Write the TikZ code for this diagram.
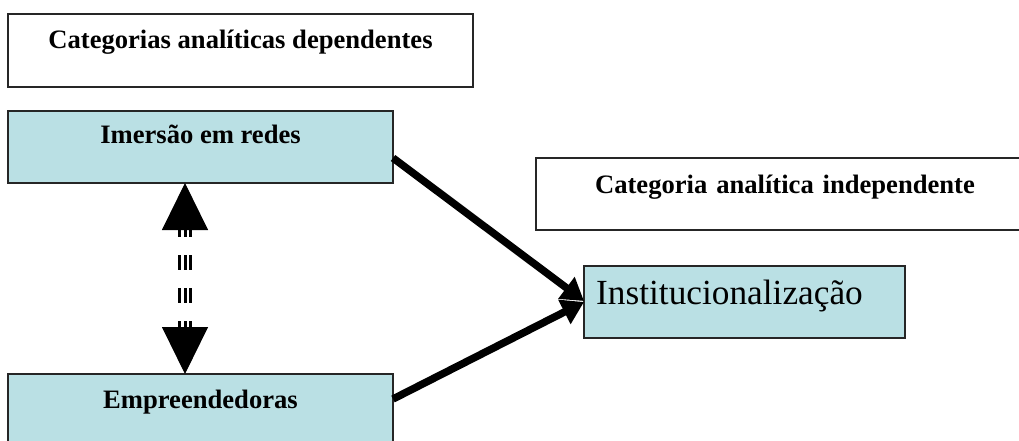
\documentclass[tikz,border=0pt]{standalone}
\usepackage{fontspec}
\setmainfont{Liberation Serif}
\usetikzlibrary{arrows.meta}
\definecolor{boxblue}{RGB}{186,224,228}
\tikzset{
  catbox/.style={draw=black!85, line width=1.5pt, inner sep=0pt, outer sep=0pt, anchor=north west,
    font=\fontsize{26.6}{30}\selectfont\bfseries},
  bluebox/.style={catbox, fill=boxblue},
  thickarrow/.style={line width=7.5pt, -{Triangle[length=22pt,width=26pt]}},
  bigtip/.style={line width=1pt, -{Triangle[length=47pt,width=46pt]}},
  bars/.style={line width=3pt, dash pattern=on 15pt off 18pt, dash phase=8pt}
}
\begin{document}
\begin{tikzpicture}[x=1pt,y=-1pt]
\useasboundingbox (0,0) rectangle (1019,441);
\fill[white] (0,0) rectangle (1019,441);
\node[catbox, minimum width=465pt, text height=35pt, text depth=38pt] (dep) at (8,14) {Categorias analíticas dependentes};
\node[bluebox, minimum width=385pt, text height=32pt, text depth=40pt] (imersao) at (8,111) {Imersão em redes};
\node[bluebox, minimum width=385pt, text height=34pt, text depth=40pt] (empre) at (8,374) {Empreendedoras};
\node[catbox, minimum width=490pt, text height=35pt, text depth=37pt, text width=490pt, align=center] (indep) at (536,158) {\hspace*{8pt}Categoria analítica independente};
\node[bluebox, minimum width=321pt, text height=38pt, text depth=34pt, font=\fontsize{35.3}{40}\selectfont] (inst) at (584,266) {\hspace*{-30pt}Institucionalização};
% connectors
\draw[thickarrow] ([yshift=-11pt]imersao.east) -- ([yshift=1pt]inst.west);
\draw[thickarrow] ([yshift=-25pt]empre.north east) -- ([yshift=0pt]inst.west);
% dashed double arrow
\coordinate (dtop) at ([xshift=-15.5pt]imersao.south);
\coordinate (dbot) at ([xshift=-15.5pt]empre.north);
\foreach \dx in {-5.5,0,5.5}{
  \draw[bars] ([xshift=\dx pt, yshift=-47pt]dtop) -- ([xshift=\dx pt, yshift=47pt]dbot);
}
\draw[bigtip] ([yshift=-48pt]dtop) -- (dtop);
\draw[bigtip] ([yshift=48pt]dbot) -- (dbot);
\end{tikzpicture}
\end{document}
